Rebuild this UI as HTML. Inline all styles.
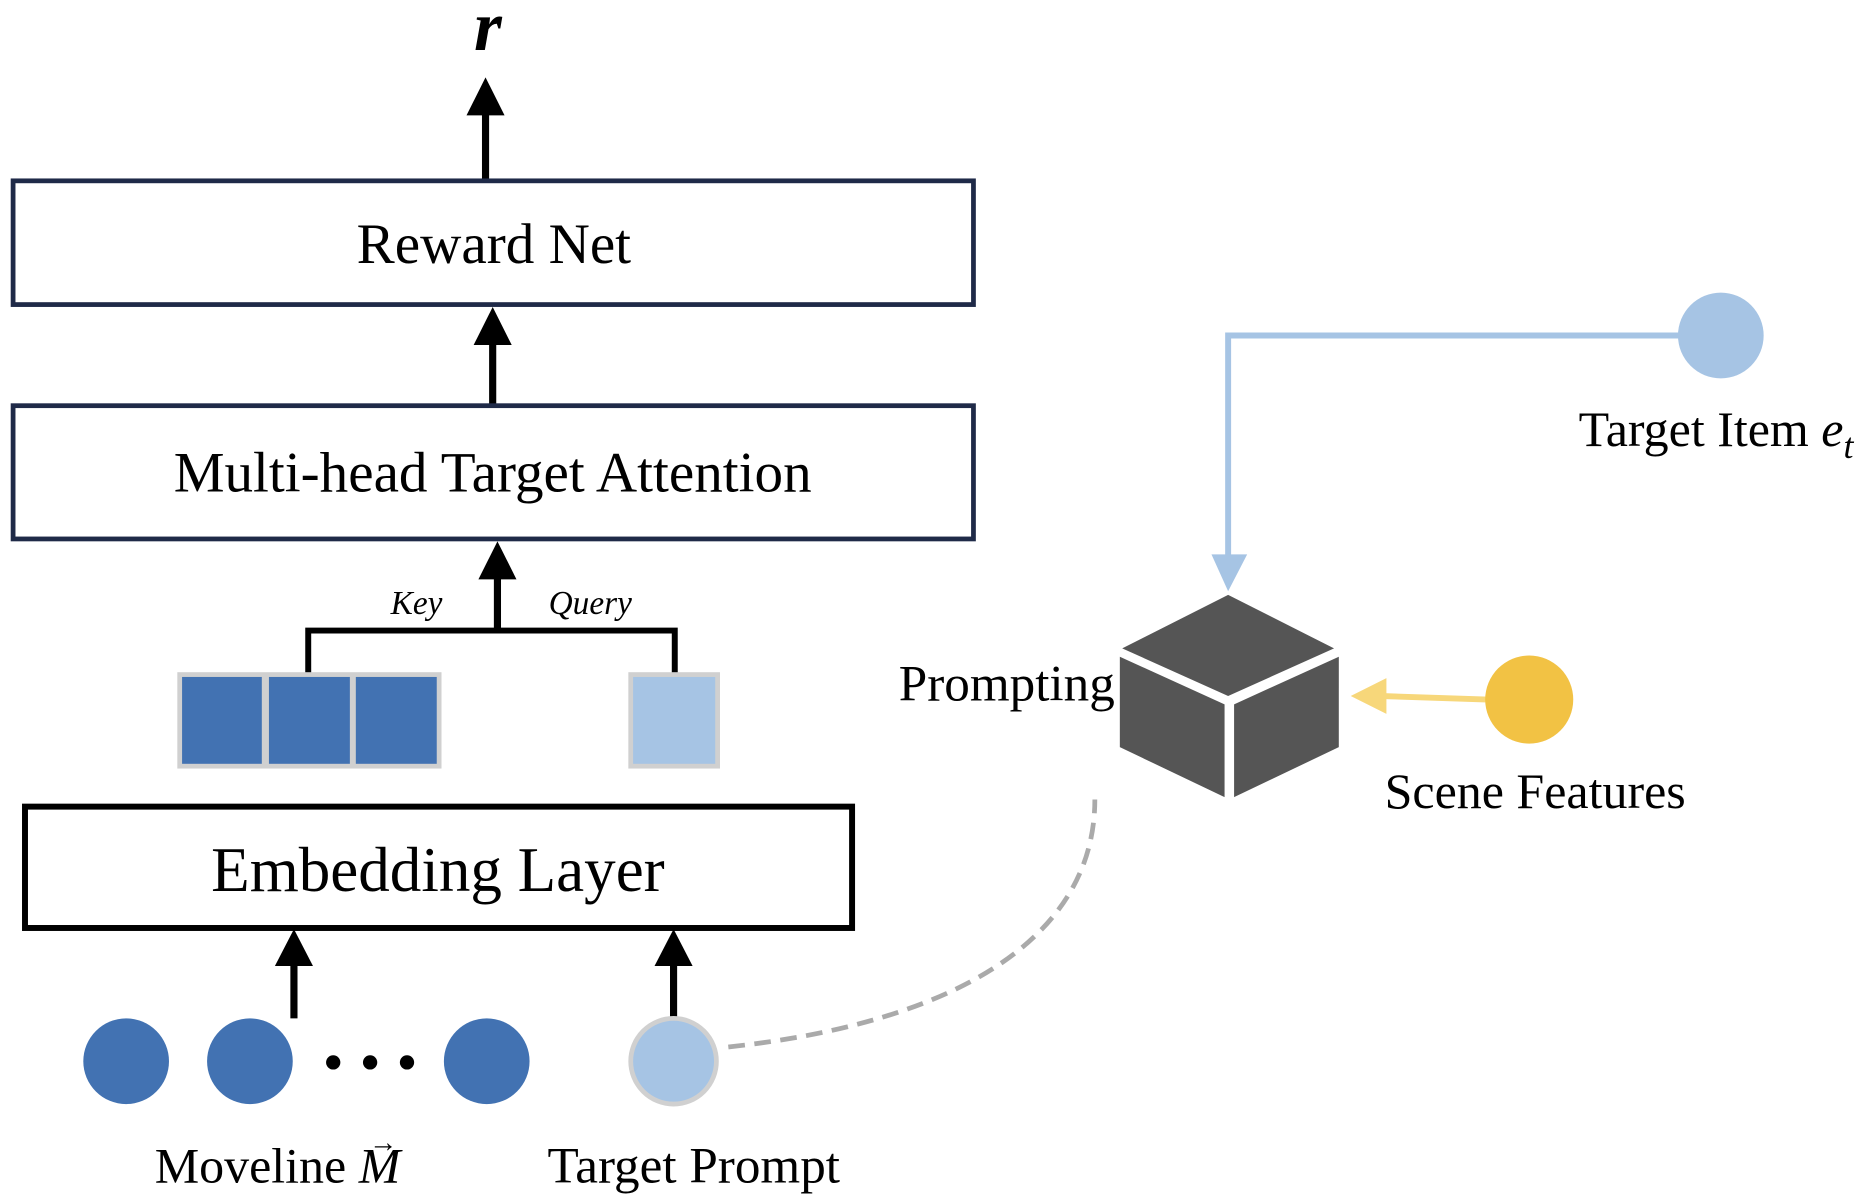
<!DOCTYPE html>
<html><head><meta charset="utf-8"><style>
html,body{margin:0;padding:0;background:#fff;}
svg{display:block;}
text{font-family:"Liberation Serif",serif;fill:#000;}
</style></head><body>
<svg width="1866" height="1204" viewBox="0 0 1568 1012" preserveAspectRatio="none" xmlns="http://www.w3.org/2000/svg">
<text x="410" y="42" font-size="60" font-style="italic" font-weight="bold" text-anchor="middle">r</text>
<line x1="408" y1="152" x2="408" y2="95" stroke="#000" stroke-width="6"/>
<polygon points="392,97 424,97 408,65" fill="#000"/>
<rect x="11" y="152" width="807" height="104" fill="#fff" stroke="#1f2a48" stroke-width="4"/>
<text x="415" y="221" font-size="48" text-anchor="middle">Reward Net</text>
<line x1="414" y1="341" x2="414" y2="288" stroke="#000" stroke-width="6"/>
<polygon points="398,290 430,290 414,258" fill="#000"/>
<rect x="11" y="341" width="807" height="112" fill="#fff" stroke="#1f2a48" stroke-width="4"/>
<text x="414" y="413" font-size="48" text-anchor="middle">Multi-head Target Attention</text>
<line x1="418" y1="530" x2="418" y2="485" stroke="#000" stroke-width="6"/>
<polygon points="402,487 434,487 418,455" fill="#000"/>
<polyline points="259,567 259,530 567,530 567,567" fill="none" stroke="#000" stroke-width="5"/>
<text x="350" y="516" font-size="28" font-style="italic" text-anchor="middle">Key</text>
<text x="496" y="516" font-size="28" font-style="italic" text-anchor="middle">Query</text>
<rect x="149" y="565" width="222" height="81" fill="#d0d0d0"/>
<rect x="153" y="569" width="67" height="73" fill="#4272b2"/>
<rect x="226" y="569" width="68" height="73" fill="#4272b2"/>
<rect x="299" y="569" width="68" height="73" fill="#4272b2"/>
<rect x="528" y="565" width="77" height="81" fill="#d0d0d0"/>
<rect x="532" y="569" width="69" height="73" fill="#a6c4e4"/>
<rect x="21" y="678" width="695" height="102" fill="#fff" stroke="#000" stroke-width="5"/>
<text x="368" y="749" font-size="53" text-anchor="middle">Embedding Layer</text>
<line x1="247" y1="856" x2="247" y2="810" stroke="#000" stroke-width="6"/>
<polygon points="231,812 263,812 247,781" fill="#000"/>
<line x1="566" y1="856" x2="566" y2="810" stroke="#000" stroke-width="6"/>
<polygon points="550,812 582,812 566,781" fill="#000"/>
<circle cx="106" cy="892" r="36" fill="#4272b2"/>
<circle cx="210" cy="892" r="36" fill="#4272b2"/>
<circle cx="409" cy="892" r="36" fill="#4272b2"/>
<circle cx="280" cy="893" r="6" fill="#000"/>
<circle cx="311" cy="893" r="6" fill="#000"/>
<circle cx="342" cy="893" r="6" fill="#000"/>
<circle cx="566" cy="892" r="36" fill="#a6c4e4" stroke="#d0d0d0" stroke-width="4"/>
<text x="130" y="994" font-size="42">Moveline <tspan font-style="italic">M</tspan></text>
<text x="310" y="968" font-size="24">→</text>
<text x="583" y="994" font-size="43" text-anchor="middle">Target Prompt</text>
<path d="M612,880 C800,860 920,790 920,672" fill="none" stroke="#aaa" stroke-width="4" stroke-dasharray="14,8"/>
<polygon points="943,545 1032,500 1121,545 1032,585" fill="#555"/>
<polygon points="941,552 1029,592 1029,670 941,628" fill="#555"/>
<polygon points="1037,592 1125,552 1125,628 1037,670" fill="#555"/>
<text x="846" y="589" font-size="43" text-anchor="middle">Prompting</text>
<polyline points="1412,282 1032,282 1032,468" fill="none" stroke="#a6c4e4" stroke-width="5"/>
<polygon points="1018,466 1048,466 1032,497" fill="#a6c4e4"/>
<circle cx="1446" cy="282" r="36" fill="#a6c4e4"/>
<text x="1442" y="375" font-size="42" text-anchor="middle">Target Item <tspan font-style="italic">e</tspan><tspan font-style="italic" font-size="30" dy="10">t</tspan></text>
<line x1="1250" y1="588" x2="1160" y2="585" stroke="#f7d77a" stroke-width="5"/>
<polygon points="1165,570 1165,600 1135,585" fill="#f7d77a"/>
<circle cx="1285" cy="588" r="37" fill="#f2c244"/>
<text x="1290" y="679" font-size="42" text-anchor="middle">Scene Features</text>
</svg>
</body></html>
